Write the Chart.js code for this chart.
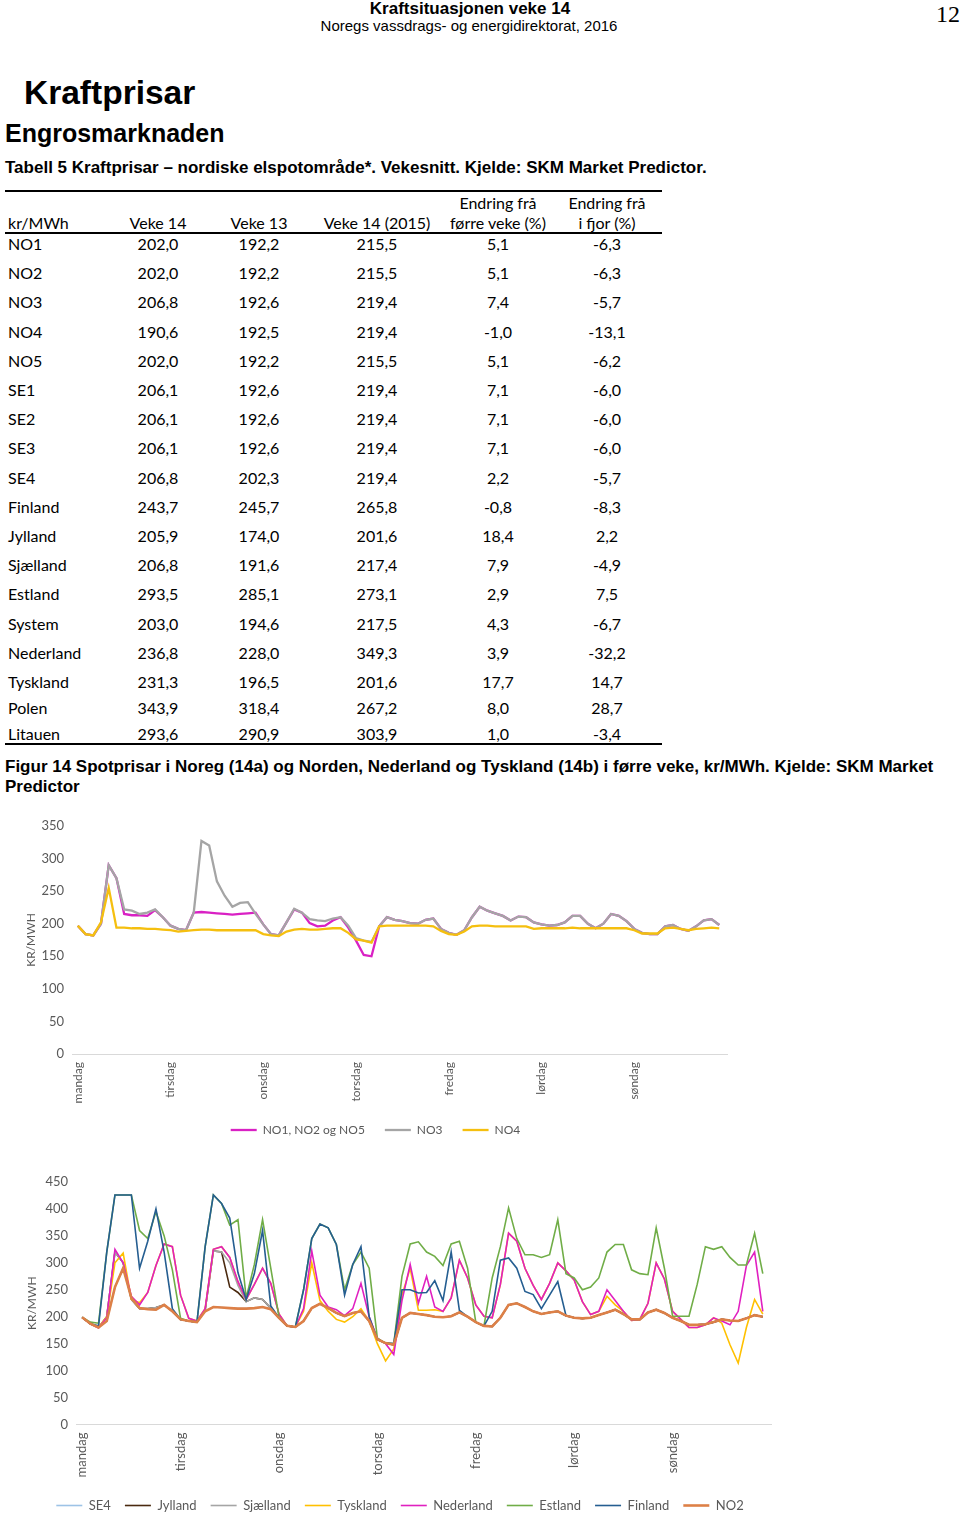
<!DOCTYPE html>
<html lang="nn">
<head>
<meta charset="utf-8">
<title>Kraftprisar – veke 14</title>
<script src="https://cdn.jsdelivr.net/npm/chart.js@4.4.1/dist/chart.umd.min.js"></script>
<style>
  html, body { margin: 0; padding: 0; background: #fff; }
  body { position: relative; width: 960px; height: 1515px; overflow: hidden;
         font-family: "Liberation Sans", Arial, sans-serif; color: #000; }
  .txt { position: absolute; white-space: nowrap; line-height: 1; }
  .rule { position: absolute; left: 5px; width: 657px; height: 2px; background: #000; }
  .cell { position: absolute; height: 20px; line-height: 20px; white-space: nowrap;
          font-family: Lato, "Open Sans", sans-serif; font-size: 16px; }
  canvas { position: absolute; left: 0; }
</style>
</head>
<body>

<div class="txt" style="left:0;width:940px;top:-0.4px;text-align:center;font-weight:bold;font-size:17px">Kraftsituasjonen veke 14</div>
<div class="txt" style="left:0;width:938px;top:18.3px;text-align:center;font-size:15px">Noregs vassdrags- og energidirektorat, 2016</div>
<div class="txt" style="left:936px;top:2px;font-family:'Liberation Serif','Times New Roman',serif;font-size:24px">12</div>

<div class="txt" style="left:24px;top:76px;font-weight:bold;font-size:33.5px">Kraftprisar</div>
<div class="txt" style="left:5px;top:120.8px;font-weight:bold;font-size:25px">Engrosmarknaden</div>
<div class="txt" style="left:5px;top:159.3px;font-weight:bold;font-size:17px">Tabell 5 Kraftprisar – nordiske elspotområde*. Vekesnitt. Kjelde: SKM Market Predictor.</div>

<div id="table"></div>

<div class="txt" style="left:5px;top:756.8px;font-weight:bold;font-size:17px;line-height:20px">Figur 14 Spotprisar i Noreg (14a) og Norden, Nederland og Tyskland (14b) i førre veke, kr/MWh. Kjelde: SKM Market<br>Predictor</div>

<canvas id="chartNoreg" width="760" height="336" style="top:810px"></canvas>
<canvas id="chartNorden" width="800" height="357" style="top:1165px"></canvas>

<script>
// ---- Tabell 5 ----
const areaNames = ['NO1', 'NO2', 'NO3', 'NO4', 'NO5', 'SE1', 'SE2', 'SE3', 'SE4', 'Finland',
  'Jylland', 'Sjælland', 'Estland', 'System', 'Nederland', 'Tyskland', 'Polen', 'Litauen'];
const veke14 = [202.0, 202.0, 206.8, 190.6, 202.0, 206.1, 206.1, 206.1, 206.8, 243.7,
  205.9, 206.8, 293.5, 203.0, 236.8, 231.3, 343.9, 293.6];
const veke13 = [192.2, 192.2, 192.6, 192.5, 192.2, 192.6, 192.6, 192.6, 202.3, 245.7,
  174.0, 191.6, 285.1, 194.6, 228.0, 196.5, 318.4, 290.9];
const veke14Ifjor = [215.5, 215.5, 219.4, 219.4, 215.5, 219.4, 219.4, 219.4, 219.4, 265.8,
  201.6, 217.4, 273.1, 217.5, 349.3, 201.6, 267.2, 303.9];
const endringForreVeke = [5.1, 5.1, 7.4, -1.0, 5.1, 7.1, 7.1, 7.1, 2.2, -0.8,
  18.4, 7.9, 2.9, 4.3, 3.9, 17.7, 8.0, 1.0];
const endringIfjor = [-6.3, -6.3, -5.7, -13.1, -6.2, -6.0, -6.0, -6.0, -5.7, -8.3,
  2.2, -4.9, 7.5, -6.7, -32.2, 14.7, 28.7, -3.4];
const tableHeaders = [['', 'kr/MWh'], ['', 'Veke 14'], ['', 'Veke 13'], ['', 'Veke 14 (2015)'],
  ['Endring frå', 'førre veke (%)'], ['Endring frå', 'i fjor (%)']];

// ---- Figur 14a: Noreg, annankvar time (måndag 00 til søndag 22) ----
const dayNames = ['mandag', 'tirsdag', 'onsdag', 'torsdag', 'fredag', 'lørdag', 'søndag'];
const no1No2No5 = [
  197, 184, 182, 200, 290, 270, 215, 213, 213, 212, 221, 210,
  197, 192, 190, 217, 218, 217, 216, 215, 214, 215, 216, 217,
  199, 184, 182, 202, 222, 217, 201, 196, 197, 205, 210, 194,
  174, 152, 150, 196, 210, 206, 204, 201, 200, 206, 208, 192,
  186, 183, 190, 210, 226, 220, 216, 212, 205, 211, 210, 202,
  199, 197, 198, 202, 212, 212, 200, 193, 200, 215, 212, 204,
  192, 186, 184, 184, 196, 198, 192, 189, 196, 205, 207, 198];
const no3 = [
  197, 184, 182, 200, 290, 270, 222, 220, 215, 217, 222, 210,
  197, 192, 190, 217, 327, 320, 265, 243, 226, 232, 233, 215,
  199, 184, 182, 202, 223, 217, 207, 205, 204, 208, 210, 197,
  178, 174, 172, 196, 210, 206, 204, 201, 200, 206, 208, 192,
  186, 183, 190, 210, 226, 220, 216, 212, 205, 211, 210, 202,
  199, 197, 198, 202, 212, 212, 200, 193, 200, 215, 212, 204,
  192, 186, 184, 184, 196, 198, 192, 189, 196, 205, 207, 198];
const no4 = [
  197, 184, 182, 202, 255, 194, 194, 193, 193, 192, 192, 191,
  190, 188, 189, 190, 191, 191, 190, 190, 190, 190, 190, 190,
  184, 182, 181, 188, 191, 192, 191, 191, 192, 193, 193, 186,
  176, 174, 171, 196, 197, 197, 197, 197, 197, 197, 196, 189,
  184, 183, 188, 196, 197, 197, 196, 196, 196, 196, 196, 192,
  193, 193, 193, 193, 194, 193, 193, 193, 193, 193, 193, 193,
  190, 185, 185, 185, 193, 194, 192, 190, 192, 193, 194, 193];

// ---- Figur 14b: Norden, Nederland og Tyskland ----
const no2 = [
  199, 187, 180, 192, 255, 290, 235, 216, 214, 213, 222, 210,
  195, 192, 190, 210, 218, 217, 216, 215, 215, 216, 218, 214,
  198, 183, 181, 192, 216, 224, 216, 207, 201, 207, 210, 192,
  158, 151, 148, 198, 207, 205, 203, 200, 199, 201, 208, 200,
  190, 183, 182, 198, 222, 225, 218, 210, 205, 208, 210, 202,
  198, 197, 198, 203, 208, 213, 205, 195, 195, 208, 213, 207,
  198, 192, 185, 185, 186, 190, 195, 193, 192, 197, 203, 200];
const se4 = [
  199, 187, 180, 192, 255, 290, 235, 216, 214, 213, 222, 210,
  195, 192, 190, 210, 218, 217, 216, 215, 215, 216, 218, 214,
  198, 183, 181, 192, 216, 224, 216, 207, 201, 207, 210, 192,
  158, 151, 148, 198, 207, 205, 203, 200, 199, 201, 208, 200,
  190, 183, 182, 198, 222, 225, 218, 210, 205, 208, 210, 202,
  198, 197, 198, 203, 208, 213, 205, 195, 195, 208, 213, 207,
  198, 192, 185, 185, 186, 190, 195, 193, 192, 197, 203, 200];
const sjaelland = [
  199, 187, 180, 200, 320, 300, 232, 215, 215, 217, 222, 210,
  195, 192, 190, 212, 322, 320, 300, 258, 228, 235, 232, 216,
  198, 183, 181, 192, 216, 224, 216, 207, 201, 207, 210, 192,
  158, 151, 148, 198, 207, 205, 203, 200, 199, 201, 208, 200,
  190, 183, 182, 198, 222, 225, 218, 210, 205, 208, 210, 202,
  198, 197, 198, 203, 208, 213, 205, 195, 195, 208, 213, 207,
  198, 192, 185, 185, 186, 190, 195, 193, 192, 197, 203, 200];
const jylland = [
  199, 187, 180, 200, 320, 300, 232, 215, 215, 217, 222, 210,
  195, 192, 190, 212, 322, 320, 255, 245, 228, 235, 232, 216,
  198, 183, 181, 192, 216, 224, 216, 207, 201, 207, 210, 192,
  158, 151, 148, 198, 207, 205, 203, 200, 199, 201, 208, 200,
  190, 183, 182, 198, 222, 225, 218, 210, 205, 208, 210, 202,
  198, 197, 198, 203, 208, 213, 205, 195, 195, 208, 213, 207,
  198, 192, 185, 185, 186, 190, 195, 193, 192, 197, 203, 200];
const tyskland = [
  199, 187, 180, 200, 300, 318, 232, 226, 245, 295, 335, 330,
  240, 197, 192, 215, 325, 330, 310, 265, 232, 260, 290, 262,
  205, 183, 181, 210, 300, 230, 210, 195, 190, 200, 215, 192,
  150, 118, 140, 240, 290, 212, 212, 213, 210, 235, 305, 272,
  222, 201, 198, 260, 355, 340, 290, 258, 232, 262, 300, 285,
  268, 228, 204, 210, 238, 222, 210, 193, 195, 225, 300, 270,
  210, 195, 180, 180, 185, 198, 188, 148, 114, 180, 232, 205];
const nederland = [
  199, 187, 179, 198, 325, 300, 238, 222, 245, 295, 335, 330,
  240, 197, 192, 215, 325, 330, 310, 265, 232, 260, 290, 262,
  205, 183, 181, 215, 322, 240, 218, 213, 202, 215, 262, 200,
  160, 150, 130, 230, 297, 225, 275, 218, 210, 235, 305, 272,
  222, 201, 198, 260, 355, 340, 290, 258, 232, 262, 300, 285,
  268, 228, 204, 210, 250, 230, 210, 193, 195, 225, 300, 270,
  210, 195, 180, 180, 185, 198, 192, 185, 210, 295, 320, 210];
const estland = [
  199, 190, 188, 320, 426, 426, 426, 360, 345, 395, 350, 287,
  197, 192, 190, 330, 426, 410, 370, 380, 235, 297, 380, 290,
  200, 183, 181, 250, 345, 372, 365, 334, 250, 297, 320, 290,
  160, 151, 150, 275, 335, 339, 320, 312, 295, 335, 340, 290,
  190, 183, 272, 330, 402, 345, 315, 315, 310, 315, 380, 280,
  272, 250, 255, 272, 320, 334, 334, 287, 280, 278, 365, 290,
  201, 201, 201, 260, 330, 325, 330, 310, 296, 296, 355, 280];
const finland = [
  199, 187, 183, 320, 426, 426, 426, 290, 340, 400, 320, 215,
  195, 192, 190, 330, 426, 410, 383, 282, 232, 280, 360, 220,
  198, 183, 181, 250, 345, 372, 365, 334, 240, 297, 330, 200,
  158, 151, 150, 250, 250, 244, 245, 267, 230, 320, 212, 200,
  190, 183, 210, 305, 309, 290, 247, 241, 215, 240, 265, 202,
  198, 197, 198, 203, 208, 213, 205, 195, 195, 208, 213, 207,
  198, 192, 185, 185, 186, 190, 195, 193, 192, 197, 203, 200];

// ---- table ----
const table = document.getElementById('table');
const colLeft = [5, 108, 208, 310, 444, 552];
const colWidth = [103, 100, 102, 134, 108, 110];

function addCell(text, col, centerY) {
  const d = document.createElement('div');
  d.className = 'cell';
  d.textContent = text;
  d.style.top = (centerY - 10) + 'px';
  if (col === 0) {
    d.style.left = (colLeft[0] + 3) + 'px';
  } else {
    d.style.left = colLeft[col] + 'px';
    d.style.width = colWidth[col] + 'px';
    d.style.textAlign = 'center';
  }
  table.appendChild(d);
}
function addRule(y) {
  const r = document.createElement('div');
  r.className = 'rule';
  r.style.top = (y - 1) + 'px';
  table.appendChild(r);
}
const fmt = v => v.toFixed(1).replace('.', ',');

addRule(191);
tableHeaders.forEach((h, c) => {
  if (h[0]) addCell(h[0], c, 203);
  addCell(h[1], c, 223);
});
addRule(233);
areaNames.forEach((name, i) => {
  const y = i <= 15 ? 244 + i * 29.2 : 682 + (i - 15) * 26;
  [name, fmt(veke14[i]), fmt(veke13[i]), fmt(veke14Ifjor[i]),
   fmt(endringForreVeke[i]), fmt(endringIfjor[i])].forEach((t, c) => addCell(t, c, y));
});
addRule(744);

// ---- charts ----
Chart.defaults.font.family = 'Lato, "Open Sans", sans-serif';
const toPoints = values => values.map((v, i) => ({ x: i * 2, y: v }));

function series(label, values, color, width, order) {
  return { label, data: toPoints(values), borderColor: color, backgroundColor: color,
           borderWidth: width, order, pointRadius: 0, tension: 0, fill: false };
}

function lineChart(id, datasets, o) {
  return new Chart(document.getElementById(id), {
    type: 'line',
    data: { datasets },
    options: {
      responsive: false,
      animation: false,
      layout: { padding: o.padding },
      plugins: {
        tooltip: { enabled: false },
        legend: {
          position: 'bottom',
          labels: {
            usePointStyle: true, pointStyle: 'line', pointStyleWidth: 26, boxHeight: 12,
            padding: o.legendPadding, color: '#595959', font: { size: o.legendFont },
            sort: (a, b) => a.datasetIndex - b.datasetIndex
          }
        }
      },
      scales: {
        x: {
          type: 'linear', min: -1.5, max: 168,
          grid: { display: false, drawTicks: false },
          border: { display: true, color: '#d9d9d9', width: 1 },
          afterBuildTicks: s => { s.ticks = dayNames.map((d, i) => ({ value: i * 24 })); },
          afterFit: s => { s.height = o.xHeight; },
          ticks: { autoSkip: false, minRotation: 90, maxRotation: 90, padding: 8,
                   color: '#595959', font: { size: o.xFont }, callback: v => dayNames[v / 24] }
        },
        y: {
          min: 0, max: o.yMax,
          afterFit: s => { s.width = o.yWidth; },
          grid: { display: false, drawTicks: false },
          border: { display: false },
          ticks: { stepSize: 50, padding: 8, color: '#595959', font: { size: 13 } },
          title: { display: true, text: 'KR/MWH', color: '#595959', font: { size: 12 },
                   padding: { top: o.titlePad, bottom: 0 } }
        }
      }
    }
  });
}

lineChart('chartNoreg', [
  series('NO1, NO2 og NO5', no1No2No5, '#d921c4', 2.3, 2),
  series('NO3', no3, '#a5a5a5', 2.3, 1),
  series('NO4', no4, '#f5bf0f', 2.3, 0)
], { padding: { top: 16, left: 24, right: 33, bottom: 0 }, yWidth: 48, xHeight: 50, xFont: 12,
     yMax: 350, legendPadding: 20, legendFont: 12, titlePad: 0 });

lineChart('chartNorden', [
  series('SE4', se4, '#9dc3e6', 1.6, 7),
  series('Jylland', jylland, '#4a2a10', 1.6, 6),
  series('Sjælland', sjaelland, '#a5a5a5', 1.6, 5),
  series('Tyskland', tyskland, '#ffc000', 1.6, 4),
  series('Nederland', nederland, '#e020c0', 1.6, 3),
  series('Estland', estland, '#70ad47', 1.6, 2),
  series('Finland', finland, '#255e91', 1.6, 1),
  series('NO2', no2, '#dd8047', 2.6, 0)
], { padding: { top: 17, left: 29, right: 29, bottom: 0 }, yWidth: 47, xHeight: 60.5, xFont: 13,
     yMax: 450, legendPadding: 14, legendFont: 13, titlePad: -4 });
</script>
</body>
</html>
